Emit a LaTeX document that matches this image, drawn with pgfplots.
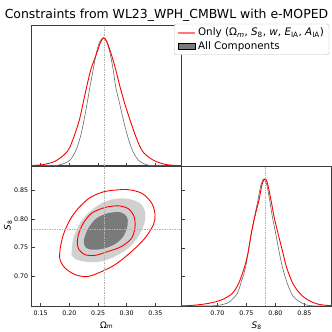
\documentclass[border=0pt]{standalone}
\usepackage{fontspec}
\setmainfont{DejaVu Sans}
\usepackage{pgfplots}
\pgfplotsset{compat=1.18}
\definecolor{dk}{RGB}{122,122,122}
\definecolor{lt}{RGB}{208,208,208}
\definecolor{spine}{RGB}{60,60,60}
\definecolor{gline}{RGB}{105,105,105}
\definecolor{truth}{RGB}{180,180,180}
\definecolor{legred}{RGB}{255,120,120}
\definecolor{legframe}{RGB}{190,190,190}
\pgfplotsset{
  tri/.style={
    scale only axis, width=150bp, height=140bp,
    axis line style={spine, line width=0.8pt},
    tick align=inside, major tick length=3bp, tick pos=left,
    every tick/.style={spine, line width=0.5pt},
    tick label style={font=\fontsize{6.3}{7}\selectfont},
    /pgf/number format/assume math mode=true,
    /pgf/number format/fixed, /pgf/number format/fixed zerofill,
    /pgf/number format/precision=2,
    label style={font=\fontsize{9}{10}\selectfont},
    xticklabel style={yshift=-1bp},
  },
}
\begin{document}
\begin{tikzpicture}
\useasboundingbox (0,0) rectangle (332bp,332bp);
\node[anchor=base, font=\fontsize{12.5}{14}\selectfont] at (166.5bp,313bp) {Constraints from WL23\_WPH\_CMBWL with e-MOPED};

% upper-left: Omega_m 1D
\begin{axis}[tri, at={(31.7bp,166.2bp)}, anchor=south west,
  xmin=0.1343, xmax=0.396, ymin=0, ymax=1.094,
  xtick={0.15,0.20,0.25,0.30,0.35}, xticklabels={}, ytick=\empty,
  legend style={at={(rel axis cs:0.949,1.014)}, anchor=north west,
    draw=legframe, fill=white, rounded corners=2bp,
    font=\fontsize{10.4}{12}\selectfont},
  legend cell align=left,
  ]
\addplot[draw=legred, line width=1.8pt, sharp corners] coordinates {(0.10,-1) (0.11,-1)};
\addlegendentry{Only (Ω\textsubscript{\textit{m}}, \textit{S}\textsubscript{8}, \textit{w}, \textit{E}\textsubscript{IA}, \textit{A}\textsubscript{IA})}
\addplot[area legend, fill=dk, draw=none, sharp corners] coordinates {(0.10,-1) (0.11,-1) (0.11,-2)};
\addlegendentry{All Components}
\addplot[gline, line width=0.6pt, smooth, forget plot] coordinates {
(0.150,0.000) (0.170,0.001) (0.1808,0.005) (0.192,0.020) (0.2011,0.044) (0.208,0.090)
(0.2139,0.148) (0.220,0.240) (0.2256,0.357) (0.231,0.490) (0.236,0.617) (0.2415,0.750)
(0.247,0.880) (0.253,0.970) (0.2593,1.000) (0.265,0.970) (0.271,0.880) (0.2765,0.750)
(0.2808,0.617) (0.2875,0.490) (0.2943,0.357) (0.301,0.240) (0.3076,0.148) (0.3135,0.090)
(0.3204,0.044) (0.329,0.018) (0.3378,0.005) (0.350,0.001) (0.365,0.000) (0.396,0.000)};
\addplot[red, line width=0.9pt, smooth, forget plot] coordinates {
(0.134,0.002) (0.150,0.007) (0.1633,0.018) (0.175,0.035) (0.1866,0.070) (0.195,0.105)
(0.2011,0.148) (0.209,0.240) (0.2174,0.357) (0.224,0.490) (0.2302,0.617) (0.238,0.760)
(0.2477,0.878) (0.254,0.960) (0.2595,1.000) (0.265,0.975) (0.2727,0.878) (0.281,0.750)
(0.2884,0.617) (0.297,0.480) (0.3059,0.357) (0.315,0.240) (0.3233,0.148) (0.330,0.100)
(0.3378,0.070) (0.348,0.040) (0.3611,0.018) (0.375,0.006) (0.396,0.001)};
\addplot[truth, line width=0.45pt, dash pattern=on 1.5bp off 1bp, forget plot] coordinates {(0.26,0) (0.26,1.094)};
\end{axis}

% lower-left: 2D
\begin{axis}[tri, at={(31.7bp,26bp)}, anchor=south west,
  xmin=0.1343, xmax=0.396, ymin=0.648, ymax=0.893,
  xtick={0.15,0.20,0.25,0.30,0.35}, ytick={0.70,0.75,0.80,0.85},
  xlabel={Ω\textsubscript{m}}, ylabel={\textit{S}\textsubscript{8}},
  xlabel style={at={(axis description cs:0.5,0)}, anchor=base, yshift=-22bp},
  ylabel style={at={(axis description cs:-0.14,0.575)}, rotate=0, anchor=base},
  ]
\addplot[fill=lt, draw=none, smooth cycle] coordinates {
(0.2041,0.7436) (0.2070,0.7669) (0.2186,0.7930) (0.2360,0.8134) (0.2564,0.8280) (0.2797,0.8355)
(0.3029,0.8355) (0.3233,0.8280) (0.3320,0.8134) (0.3309,0.7930) (0.3204,0.7698) (0.3030,0.7494)
(0.2797,0.7349) (0.2564,0.7261) (0.2331,0.7250) (0.2128,0.7291) (0.2041,0.7366)};
\addplot[fill=dk, draw=none, smooth cycle] coordinates {
(0.2262,0.7669) (0.2331,0.7843) (0.2477,0.8018) (0.2680,0.8105) (0.2884,0.8122) (0.3000,0.8047)
(0.3018,0.7901) (0.2942,0.7698) (0.2797,0.7564) (0.2593,0.7483) (0.2389,0.7465) (0.2285,0.7506)
(0.2256,0.7581)};
\addplot[red, line width=0.9pt, smooth cycle] coordinates {
(0.2157,0.7727) (0.2244,0.7930) (0.2390,0.8105) (0.2622,0.8204) (0.2855,0.8233) (0.3030,0.8181)
(0.3128,0.8047) (0.3146,0.7872) (0.3088,0.7669) (0.2913,0.7523) (0.2680,0.7436) (0.2448,0.7366)
(0.2273,0.7378) (0.2169,0.7465) (0.2139,0.7581)};
\addplot[red, line width=0.9pt, smooth cycle] coordinates {
(0.2680,0.8495) (0.3000,0.8518) (0.3262,0.8454) (0.3437,0.8280) (0.3495,0.8076) (0.3466,0.7901)
(0.3320,0.7669) (0.3088,0.7436) (0.2797,0.7203) (0.2506,0.7058) (0.2302,0.6994) (0.2099,0.7029)
(0.1924,0.7145) (0.1837,0.7291) (0.1837,0.7465) (0.1895,0.7727) (0.2011,0.7989) (0.2157,0.8192)
(0.2331,0.8355) (0.2506,0.8448)};
\addplot[truth, line width=0.45pt, dash pattern=on 1.5bp off 1bp] coordinates {(0.26,0.648) (0.26,0.893)};
\addplot[truth, line width=0.45pt, dash pattern=on 1.5bp off 1bp] coordinates {(0.1343,0.7826) (0.396,0.7826)};
\end{axis}

% lower-right: S8 1D
\begin{axis}[tri, at={(181.7bp,26bp)}, anchor=south west,
  xmin=0.6386, xmax=0.8972, ymin=0, ymax=1.1025,
  xtick={0.70,0.75,0.80,0.85}, ytick={0.231,0.457,0.683,0.908}, yticklabels={},
  xlabel={\textit{S}\textsubscript{8}},
  xlabel style={at={(axis description cs:0.5,0)}, anchor=base, yshift=-22bp},
  ]
\addplot[gline, line width=0.6pt, smooth] coordinates {
(0.6386,0) (0.680,0.000) (0.700,0.004) (0.712,0.015) (0.7213,0.034) (0.7345,0.100) (0.742,0.200)
(0.7489,0.310) (0.7586,0.572) (0.764,0.700) (0.7701,0.835) (0.775,0.950) (0.7799,1.000)
(0.785,0.960) (0.7902,0.835) (0.795,0.700) (0.8006,0.572) (0.806,0.440) (0.8121,0.310)
(0.819,0.200) (0.8276,0.100) (0.834,0.060) (0.842,0.034) (0.852,0.010) (0.862,0.002) (0.880,0.000) (0.8972,0)};
\addplot[red, line width=0.9pt, smooth] coordinates {
(0.6386,0.001) (0.650,0.003) (0.664,0.008) (0.680,0.017) (0.698,0.034) (0.712,0.058) (0.726,0.100)
(0.737,0.180) (0.7471,0.310) (0.753,0.420) (0.7586,0.572) (0.765,0.710) (0.7719,0.835)
(0.777,0.955) (0.7816,1.000) (0.786,0.975) (0.7925,0.835) (0.798,0.700) (0.8046,0.572)
(0.812,0.440) (0.819,0.310) (0.830,0.180) (0.842,0.100) (0.852,0.060) (0.862,0.034)
(0.872,0.017) (0.882,0.008) (0.8972,0.002)};
\addplot[truth, line width=0.45pt, dash pattern=on 1.5bp off 1bp] coordinates {(0.7822,0) (0.7822,1.1025)};
\end{axis}
\end{tikzpicture}
\end{document}
